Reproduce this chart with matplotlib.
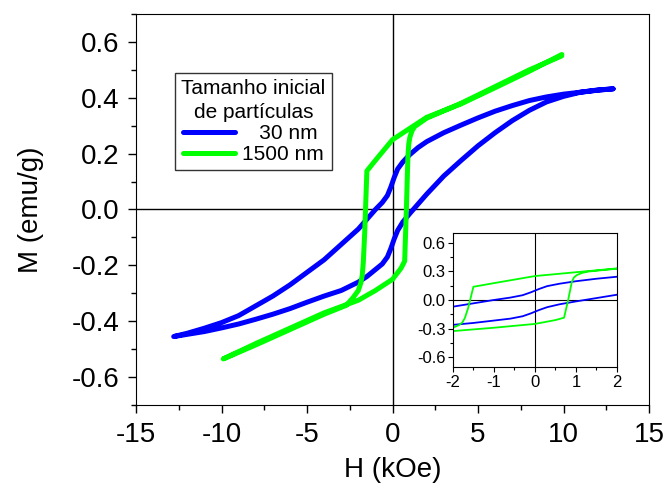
import matplotlib
matplotlib.use("Agg")
import matplotlib.pyplot as plt
from matplotlib.ticker import MultipleLocator

plt.rcParams['font.family'] = ['Liberation Sans', 'DejaVu Sans']
plt.rcParams['axes.unicode_minus'] = False

# 30 nm loop (blue): descending-field branch, then ascending-field branch
H_b_desc = [12.9, 12, 11, 10, 9, 8, 7, 6, 5, 4, 3, 2, 1.5, 1, 0.6, 0.3, 0.1, -0.1, -0.3, -0.6, -1, -1.5, -2, -3, -4, -5, -6, -7, -8, -9, -10, -11, -12, -12.8]
M_b_desc = [0.432, 0.427, 0.42, 0.413, 0.403, 0.39, 0.372, 0.352, 0.328, 0.302, 0.275, 0.243, 0.222, 0.196, 0.17, 0.145, 0.115, 0.08, 0.05, 0.025, 0.0, -0.035, -0.07, -0.125, -0.18, -0.225, -0.27, -0.31, -0.345, -0.38, -0.405, -0.425, -0.443, -0.455]
H_b_asc = [-12.8, -12, -11, -10, -9, -8, -7, -6, -5, -4, -3, -2, -1.5, -1, -0.6, -0.3, -0.1, 0.1, 0.3, 0.6, 1, 1.5, 2, 3, 4, 5, 6, 7, 8, 9, 10, 11, 12, 12.9]
M_b_asc = [-0.455, -0.447, -0.437, -0.424, -0.41, -0.393, -0.375, -0.355, -0.332, -0.31, -0.29, -0.26, -0.24, -0.215, -0.195, -0.17, -0.14, -0.105, -0.075, -0.045, -0.015, 0.02, 0.055, 0.12, 0.175, 0.228, 0.275, 0.318, 0.355, 0.385, 0.405, 0.42, 0.428, 0.432]

# 1500 nm loop (green)
H_g_desc = [9.9, 8, 6, 4, 2, 1, 0, -1, -1.5, -1.63, -1.71, -1.77, -1.85, -2.0, -2.3, -2.7, -4, -6, -8, -9.9]
M_g_desc = [0.555, 0.495, 0.436, 0.378, 0.33, 0.29, 0.25, 0.176, 0.138, -0.087, -0.19, -0.235, -0.262, -0.29, -0.315, -0.343, -0.375, -0.43, -0.485, -0.535]
H_g_asc = [-9.9, -8, -6, -4, -2, -1, 0, 0.5, 0.71, 0.81, 0.9, 0.95, 1.02, 1.15, 1.3, 1.6, 2, 4, 6, 8, 9.9]
M_g_asc = [-0.535, -0.48, -0.425, -0.37, -0.325, -0.29, -0.25, -0.21, -0.185, 0.0, 0.19, 0.235, 0.26, 0.283, 0.297, 0.31, 0.327, 0.38, 0.44, 0.50, 0.55]

labels = ["   30 nm", "1500 nm"]
legend_title = "Tamanho inicial\nde partículas"
blue = "#0000ff"
green = "#00ff00"

fig = plt.figure(figsize=(6.67, 4.86), dpi=100)
ax = fig.add_axes([0.204, 0.1667, 0.769, 0.8045])

ax.plot(H_b_desc + H_b_asc, M_b_desc + M_b_asc, color=blue, lw=3.6, label=labels[0],
        solid_capstyle='round', solid_joinstyle='round')
ax.plot(H_g_desc + H_g_asc, M_g_desc + M_g_asc, color=green, lw=3.6, label=labels[1],
        solid_capstyle='round', solid_joinstyle='round')
ax.axhline(0, color='black', lw=1, zorder=0)
ax.axvline(0, color='black', lw=1, zorder=0)

ax.set_xlim(-15, 15)
ax.set_ylim(-0.7, 0.7)
ax.xaxis.set_major_locator(MultipleLocator(5))
ax.xaxis.set_minor_locator(MultipleLocator(2.5))
ax.yaxis.set_major_locator(MultipleLocator(0.2))
ax.yaxis.set_minor_locator(MultipleLocator(0.1))
ax.yaxis.set_major_formatter(plt.FuncFormatter(lambda v, p: f"{v:.1f}"))
ax.tick_params(which='major', direction='out', length=6, width=1, labelsize=20, pad=6)
ax.tick_params(which='minor', direction='out', length=3.5, width=1)
ax.set_xlabel("H (kOe)", fontsize=20, labelpad=7)
ax.set_ylabel("M (emu/g)", fontsize=20, labelpad=20)

leg = ax.legend(title=legend_title, loc='upper left', bbox_to_anchor=(0.076, 0.849),
                fontsize=15, title_fontsize=15, frameon=True, fancybox=False,
                edgecolor='black', handlelength=2.5, handletextpad=0.3,
                borderaxespad=0, borderpad=0.3, labelspacing=0.1)
leg.get_frame().set_linewidth(1)
leg.get_title().set_multialignment('center')
leg.get_title().set_linespacing(1.3)

# inset
ins = fig.add_axes([0.679, 0.2449, 0.246, 0.2757])
ins.plot(H_b_desc + H_b_asc, M_b_desc + M_b_asc, color=blue, lw=1.3)
ins.plot(H_g_desc + H_g_asc, M_g_desc + M_g_asc, color=green, lw=1.3)
ins.axhline(0, color='black', lw=0.8, zorder=0)
ins.axvline(0, color='black', lw=0.8, zorder=0)
ins.set_xlim(-2, 2)
ins.set_ylim(-0.7, 0.7)
ins.xaxis.set_major_locator(MultipleLocator(1))
ins.xaxis.set_minor_locator(MultipleLocator(0.5))
ins.yaxis.set_major_locator(MultipleLocator(0.3))
ins.yaxis.set_minor_locator(MultipleLocator(0.15))
ins.yaxis.set_major_formatter(plt.FuncFormatter(lambda v, p: f"{v:.1f}"))
ins.tick_params(which='major', direction='out', length=3.5, width=0.8, labelsize=12, pad=2)
ins.tick_params(which='minor', direction='out', length=2, width=0.8)

fig.savefig("out.png", dpi=100)
